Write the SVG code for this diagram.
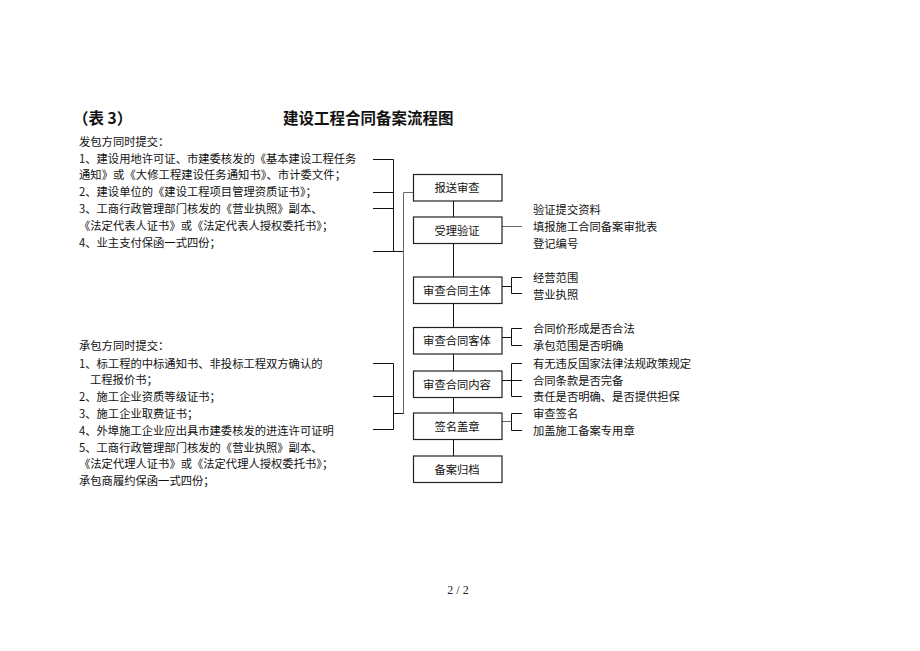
<svg xmlns="http://www.w3.org/2000/svg" width="920" height="651" viewBox="0 0 920 651">
<style>
text{font-family:"Noto Sans CJK SC","Liberation Sans",sans-serif;fill:#111;}
.t{font-size:11.3px;}
.b{font-size:11.3px;text-anchor:middle;}
.h{font-size:15.5px;font-weight:bold;}
.pg{font-family:"Liberation Serif",serif;font-size:12px;text-anchor:middle;fill:#222;}
.box{fill:#fff;stroke:#222;stroke-width:1.2;}
.ln{fill:none;stroke:#111;stroke-width:1;}
.lg{fill:none;stroke:#666;stroke-width:1;}
</style>
<rect width="920" height="651" fill="#fff"/>
<text class="h" x="73" y="124">（表 3）</text>
<text class="h" x="283" y="124">建设工程合同备案流程图</text>

<g id="left-upper">
<text class="t" x="79" y="145.5">发包方同时提交：</text>
<text class="t" x="79" y="162.5">1、建设用地许可证、市建委核发的《基本建设工程任务</text>
<text class="t" x="79" y="178.5" textLength="267" lengthAdjust="spacing">通知》或《大修工程建设任务通知书》、市计委文件；</text>
<text class="t" x="79" y="195.5">2、建设单位的《建设工程项目管理资质证书》；</text>
<text class="t" x="79" y="213">3、工商行政管理部门核发的《营业执照》副本、</text>
<text class="t" x="79" y="229.5">《法定代表人证书》或《法定代表人授权委托书》；</text>
<text class="t" x="79" y="246.5">4、业主支付保函一式四份；</text>
</g>

<g id="left-lower">
<text class="t" x="79" y="349.5">承包方同时提交：</text>
<text class="t" x="79" y="367.5">1、标工程的中标通知书、非投标工程双方确认的</text>
<text class="t" x="90" y="383.5">工程报价书；</text>
<text class="t" x="79" y="401">2、施工企业资质等级证书；</text>
<text class="t" x="79" y="417.5">3、施工企业取费证书；</text>
<text class="t" x="79" y="434.5">4、外埠施工企业应出具市建委核发的进连许可证明</text>
<text class="t" x="79" y="451.5">5、工商行政管理部门核发的《营业执照》副本、</text>
<text class="t" x="79" y="467.5">《法定代理人证书》或《法定代理人授权委托书》；</text>
<text class="t" x="79" y="484.5">承包商履约保函一式四份；</text>
</g>

<g id="connectors">
<path class="ln" d="M373 159.5H393.5M373 192.5H393.5M373 208.5H393.5M393.5 159.5V251.5M373 251.5H403.5"/>
<path class="lg" d="M403.5 192.5V413.5M403.5 192.5H413"/>
<path class="ln" d="M373 363.5H393.5M373 396.5H393.5M373 429.5H393.5M393.5 363.5V429.5M393.5 413.5H403.5"/>
<path class="ln" d="M453.5 201V217M453.5 243V277M453.5 303V327M453.5 354V371M453.5 397V413M453.5 439V456"/>
<path class="lg" d="M502 226.5H522"/>
<path class="ln" d="M502 286.5H511.5M511.5 277.5V293.5M511.5 277.5H522M511.5 293.5H522"/>
<path class="ln" d="M502 337.5H511.5M511.5 328.5V345.5M511.5 328.5H522M511.5 345.5H522"/>
<path class="ln" d="M502 380.5H511.5M511.5 363.5V396.5M511.5 363.5H522M511.5 396.5H522M511.5 380.5H522"/>
<path class="lg" d="M502 421.5H511.5"/>
<path class="ln" d="M511.5 413.5V430.5M511.5 413.5H522M511.5 430.5H522"/>
</g>

<g id="n1"><rect class="box" x="413.5" y="174.5" width="88.5" height="26.5"/><text class="b" x="457" y="192">报送审查</text></g>
<g id="n2"><rect class="box" x="413.5" y="217" width="88.5" height="26.5"/><text class="b" x="457" y="234.5">受理验证</text></g>
<g id="n3"><rect class="box" x="413.5" y="277" width="88.5" height="26.5"/><text class="b" x="457" y="294.5">审查合同主体</text></g>
<g id="n4"><rect class="box" x="413.5" y="327.5" width="88.5" height="26.5"/><text class="b" x="457" y="345">审查合同客体</text></g>
<g id="n5"><rect class="box" x="413.5" y="371" width="88.5" height="26.5"/><text class="b" x="457" y="388.5">审查合同内容</text></g>
<g id="n6"><rect class="box" x="413.5" y="413" width="88.5" height="26.5"/><text class="b" x="457" y="430.5">签名盖章</text></g>
<g id="n7"><rect class="box" x="413.5" y="456" width="88.5" height="26.5"/><text class="b" x="457" y="473.5">备案归档</text></g>

<g id="right-notes">
<text class="t" x="533" y="213.5">验证提交资料</text>
<text class="t" x="533" y="230.5">填报施工合同备案审批表</text>
<text class="t" x="533" y="247.5">登记编号</text>
<text class="t" x="533" y="281.5">经营范围</text>
<text class="t" x="533" y="298.5">营业执照</text>
<text class="t" x="533" y="332.5">合同价形成是否合法</text>
<text class="t" x="533" y="349.5">承包范围是否明确</text>
<text class="t" x="533" y="367.5">有无违反国家法律法规政策规定</text>
<text class="t" x="533" y="384.5">合同条款是否完备</text>
<text class="t" x="533" y="400.5">责任是否明确、是否提供担保</text>
<text class="t" x="533" y="417.5">审查签名</text>
<text class="t" x="533" y="434.5">加盖施工备案专用章</text>
</g>

<text class="pg" x="458" y="594">2 / 2</text>
</svg>
